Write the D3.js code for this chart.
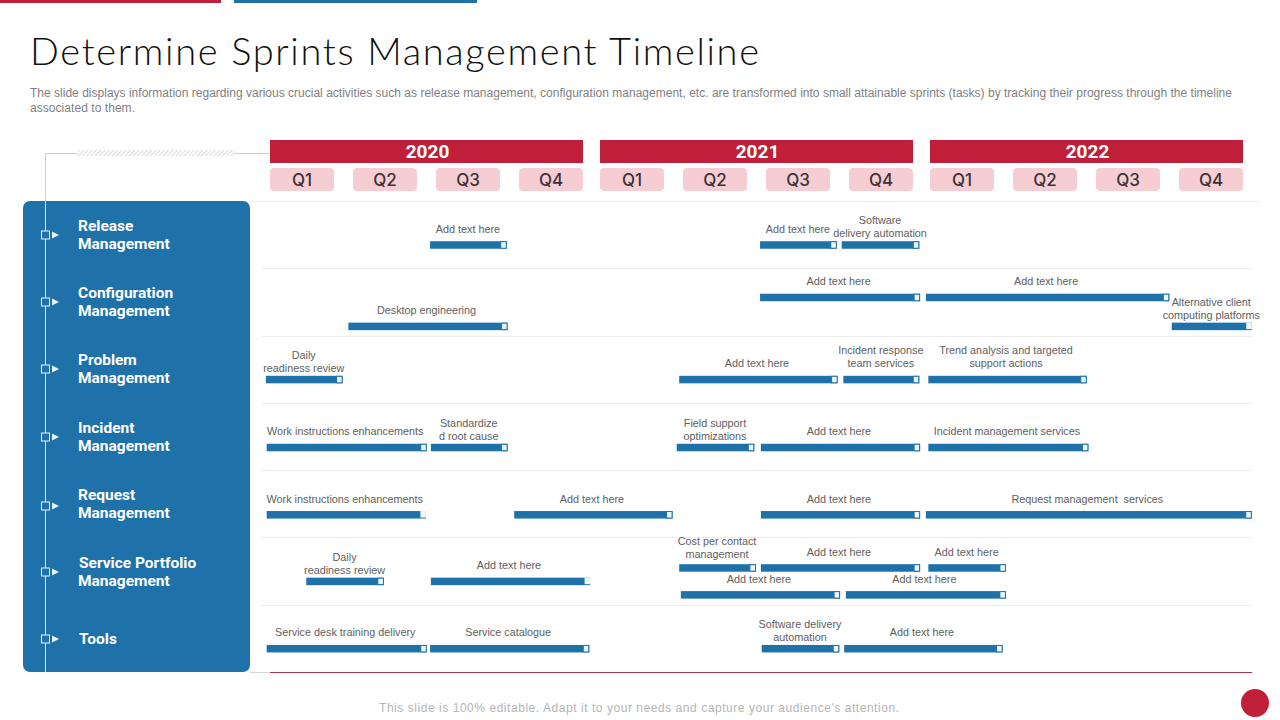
<!DOCTYPE html>
<html>
<head>
<meta charset="utf-8">
<script src="https://cdn.jsdelivr.net/npm/d3@7"></script>
<style>
html, body { margin: 0; padding: 0; background: #fff; }
svg { display: block; }
.task text { white-space: pre; }
</style>
</head>
<body>
<svg width="1280" height="720"></svg>
<script>
const years = ["2020", "2021", "2022"];
const quarters = ["Q1", "Q2", "Q3", "Q4"];
const rowNames = [
    ["Release", "Management"],
    ["Configuration", "Management"],
    ["Problem", "Management"],
    ["Incident", "Management"],
    ["Request", "Management"],
    ["Service Portfolio", "Management"],
    ["Tools"]
];

// bars: labels, row position (in rows from the top), start and end (in quarters from Q1 2020)
const taskLabels = [
    ["Add text here"], ["Add text here"], ["Software", "delivery automation"],
    ["Add text here"], ["Add text here"], ["Desktop engineering"], ["Alternative client", "computing platforms"],
    ["Daily", "readiness review"], ["Add text here"], ["Incident response", "team services"], ["Trend analysis and targeted", "support actions"],
    ["Work instructions enhancements"], ["Standardize", "d root cause"], ["Field support", "optimizations"], ["Add text here"], ["Incident management services"],
    ["Work instructions enhancements"], ["Add text here"], ["Add text here"], ["Request management  services"],
    ["Daily", "readiness review"], ["Add text here"], ["Cost per contact", "management"], ["Add text here"], ["Add text here"], ["Add text here"], ["Add text here"],
    ["Service desk training delivery"], ["Service catalogue"], ["Software delivery", "automation"], ["Add text here"]
];
const taskRow = [
    0.65, 0.65, 0.65,
    1.43, 1.43, 1.86, 1.86,
    2.65, 2.65, 2.65, 2.65,
    3.66, 3.66, 3.66, 3.66, 3.66,
    4.66, 4.66, 4.66, 4.66,
    5.65, 5.65, 5.45, 5.45, 5.45, 5.85, 5.85,
    6.65, 6.65, 6.65, 6.65
];
const taskStart = [
    1.94, 5.94, 6.93,
    5.94, 7.95, 0.95, 10.93,
    -0.05, 4.96, 6.95, 7.98,
    -0.04, 1.95, 4.93, 5.95, 7.98,
    -0.04, 2.96, 5.95, 7.95,
    0.44, 1.95, 4.96, 5.95, 7.98, 4.98, 6.98,
    -0.04, 1.94, 5.96, 6.96
];
const taskEnd = [
    2.87, 6.87, 7.87,
    7.88, 10.90, 2.88, 11.90,
    0.88, 6.88, 7.87, 9.90,
    1.90, 2.88, 5.87, 7.88, 9.92,
    1.89, 4.88, 7.88, 11.90,
    1.38, 3.88, 5.89, 7.88, 8.92, 6.91, 8.92,
    1.90, 3.87, 6.90, 8.88
];
// these bars end in a cap with no top edge
const openCaps = [6, 16, 21];
// two-line labels that sit higher over their bar than the others
const raisedLabels = [9, 10, 22];

const titleText = "Determine Sprints Management Timeline";
const descLines = [
    "The slide displays information regarding various crucial activities such as release management, configuration management, etc. are transformed into small attainable sprints (tasks) by tracking their progress through the timeline",
    "associated to them."
];
const descWidths = [1202, 105];
const footerText = "This slide is 100% editable. Adapt it to your needs and capture your audience's attention.";

const red = "#c01f39";
const blue = "#1f71a9";

const svg = d3.select("svg");

const x = d3.scaleLinear().domain([0, 12]).range([270, 1260]);
const y = d3.scaleLinear().domain([0, 7]).range([201, 672]);
const yearBand = d3.scaleBand().domain(years).range([270, 1243]).paddingInner(0.0515);

// top accent bars
svg.append("rect").attr("x", 0).attr("y", 0).attr("width", 221).attr("height", 3).attr("fill", red);
svg.append("rect").attr("x", 234).attr("y", 0).attr("width", 243).attr("height", 3).attr("fill", blue);

svg.append("text")
    .attr("x", 30).attr("y", 65)
    .attr("font-family", "Lato").attr("font-weight", 300).attr("font-size", 38).attr("fill", "#111")
    .attr("textLength", 729).attr("lengthAdjust", "spacing")
    .text(titleText);

svg.selectAll(".desc").data(descLines).join("text")
    .attr("class", "desc")
    .attr("x", 30).attr("y", (d, i) => 97 + i * 14.5)
    .attr("font-family", "Liberation Sans").attr("font-size", 12).attr("fill", "#7f7f7f")
    .attr("textLength", (d, i) => descWidths[i]).attr("lengthAdjust", "spacing")
    .text(d => d);

// hatched strip
const pattern = svg.append("defs").append("pattern")
    .attr("id", "hatch").attr("width", 3).attr("height", 3)
    .attr("patternUnits", "userSpaceOnUse")
    .attr("patternTransform", "rotate(45)");
pattern.append("line").attr("x1", 0).attr("y1", 0).attr("x2", 0).attr("y2", 3)
    .attr("stroke", "#c9c9c9").attr("stroke-width", 1.4);

svg.append("path").attr("d", "M45.5,201V153.5H270").attr("fill", "none").attr("stroke", "#cfcfcf");
svg.append("rect").attr("x", 78).attr("y", 150).attr("width", 157).attr("height", 6).attr("fill", "#fff");
svg.append("rect").attr("x", 78).attr("y", 150).attr("width", 157).attr("height", 6).attr("fill", "url(#hatch)");

// year headers and quarter pills
const yearGroups = svg.selectAll(".year").data(years).join("g").attr("class", "year");
yearGroups.append("rect")
    .attr("x", d => yearBand(d)).attr("y", 140)
    .attr("width", yearBand.bandwidth()).attr("height", 23)
    .attr("fill", red);
yearGroups.append("text")
    .attr("x", d => yearBand(d) + yearBand.bandwidth() / 2 + 1).attr("y", 158)
    .attr("text-anchor", "middle")
    .attr("font-family", "Roboto").attr("font-weight", 700).attr("font-size", 19).attr("fill", "#fff")
    .text(d => d);

yearGroups.each(function (yr) {
    const qBand = d3.scaleBand().domain(quarters)
        .range([yearBand(yr), yearBand(yr) + yearBand.bandwidth()])
        .paddingInner(0.229);
    const g = d3.select(this);
    g.selectAll(".qbox").data(quarters).join("rect")
        .attr("class", "qbox")
        .attr("x", d => qBand(d)).attr("y", 168)
        .attr("width", qBand.bandwidth()).attr("height", 23)
        .attr("rx", 4)
        .attr("fill", "#f7cdd4");
    g.selectAll(".qlabel").data(quarters).join("text")
        .attr("class", "qlabel")
        .attr("x", d => qBand(d) + qBand.bandwidth() / 2).attr("y", 186)
        .attr("text-anchor", "middle")
        .attr("font-family", "Inter").attr("font-weight", 500).attr("font-size", 17).attr("fill", "#3b3335")
        .text(d => d);
});

// row separators
svg.selectAll(".sep").data(d3.range(0, 7)).join("line")
    .attr("class", "sep")
    .attr("x1", d => d === 0 ? 250 : 262).attr("x2", d => d === 0 ? 1260 : 1252)
    .attr("y1", d => Math.round(y(d)) + 0.5).attr("y2", d => Math.round(y(d)) + 0.5)
    .attr("stroke", "#ececec");
svg.append("line").attr("x1", 250).attr("x2", 270).attr("y1", 672.5).attr("y2", 672.5).attr("stroke", "#d8d8d8");
svg.append("line").attr("x1", 270).attr("x2", 1252).attr("y1", 672.5).attr("y2", 672.5).attr("stroke", "#a8384c");

// left panel
svg.append("rect").attr("x", 23).attr("y", 201).attr("width", 227).attr("height", 471).attr("rx", 7).attr("fill", blue);
svg.append("line").attr("x1", 45.5).attr("x2", 45.5).attr("y1", 201).attr("y2", 672).attr("stroke", "#d5e6f1");

const rowCenter = d3.scaleLinear().domain([0, 6]).range([234.5, 639]);
const rows = svg.selectAll(".row").data(rowNames).join("g").attr("class", "row")
    .attr("transform", (d, i) => `translate(0,${Math.round(rowCenter(i))})`);
// the Request marker sits a little below its label
const markerDy = (d) => d[0] === "Request" ? 2 : 0;
rows.append("rect").attr("x", 41.5).attr("y", d => markerDy(d) - 4).attr("width", 8).attr("height", 8)
    .attr("fill", blue).attr("stroke", "#e8f3f9");
rows.append("path").attr("transform", d => `translate(0,${markerDy(d)})`)
    .attr("d", "M52,-3.5L59,0L52,3.5Z").attr("fill", "#e8f3f9");
rows.selectAll("text").data(d => d).join("text")
    .attr("x", d => d === "Tools" || d === "Service Portfolio" ? 79 : 78)
    .attr("y", (d, i, n) => (i - (n.length - 1) / 2) * 18 + 4.5)
    .attr("font-family", "Roboto").attr("font-weight", 700).attr("font-size", 15.5).attr("fill", "#fff")
    .text(d => d);

// task bars
const tasks = taskLabels.map((lines, i) => ({
    lines, row: taskRow[i], start: taskStart[i], end: taskEnd[i],
    open: openCaps.includes(i), raised: raisedLabels.includes(i)
}));
const task = svg.selectAll(".task").data(tasks).join("g").attr("class", "task");
task.append("rect")
    .attr("x", d => x(d.start)).attr("y", d => y(d.row) - 3.5)
    .attr("width", d => x(d.end) - x(d.start)).attr("height", 7.5)
    .attr("fill", blue);
task.filter(d => !d.open).append("rect")
    .attr("x", d => x(d.end) - 6).attr("y", d => y(d.row) - 3)
    .attr("width", 5.5).attr("height", 6.5)
    .attr("fill", "#eef9fd").attr("stroke", blue).attr("stroke-width", 1);
task.filter(d => d.open).append("rect")
    .attr("x", d => x(d.end) - 5.5).attr("y", d => y(d.row) - 3.5)
    .attr("width", 5.5).attr("height", 6.5)
    .attr("fill", "#f2fafd");
task.selectAll("text").data(d => d.lines.map((line, i) => ({ line, i, n: d.lines.length, d }))).join("text")
    .attr("x", t => (x(t.d.start) + x(t.d.end)) / 2 - (x(t.d.end) - x(t.d.start) > 100 ? 1.5 : 0.5))
    .attr("y", t => {
        const base = y(t.d.row) - 12 - (t.n - 1 - t.i) * 13;
        if (t.n === 1) return base;
        if (t.d.row === 5.45) return base + 2.5;
        return t.d.raised ? base : base + 4.5;
    })
    .attr("text-anchor", "middle")
    .attr("font-family", "Liberation Sans").attr("font-size", 10.8).attr("fill", "#606060")
    .text(t => t.line);

// footer
svg.append("text")
    .attr("x", 639).attr("y", 712)
    .attr("text-anchor", "middle")
    .attr("font-family", "Liberation Sans").attr("font-size", 12).attr("fill", "#b5b5b5")
    .attr("textLength", 520).attr("lengthAdjust", "spacing")
    .text(footerText);
svg.append("circle").attr("cx", 1255).attr("cy", 703).attr("r", 14).attr("fill", red);
</script>
</body>
</html>
